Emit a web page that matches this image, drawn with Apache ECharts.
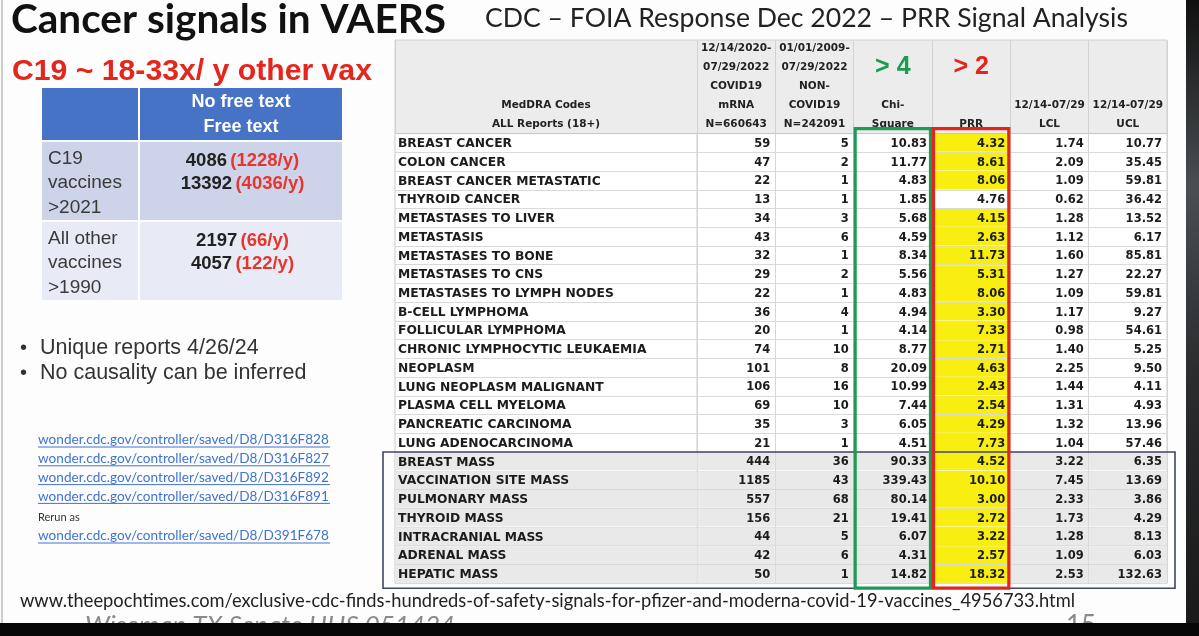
<!DOCTYPE html>
<html>
<head>
<meta charset="utf-8">
<script src="https://cdn.jsdelivr.net/npm/echarts@6/dist/echarts.min.js"></script>
<style>
  html, body { margin: 0; padding: 0; background: #fdfdfd; }
  #main { width: 1199px; height: 636px; }
</style>
</head>
<body>
<div id="main"></div>
<script>
// ---- data ----
var TERMS = ['BREAST CANCER', 'COLON CANCER', 'BREAST CANCER METASTATIC', 'THYROID CANCER',
    'METASTASES TO LIVER', 'METASTASIS', 'METASTASES TO BONE', 'METASTASES TO CNS',
    'METASTASES TO LYMPH NODES', 'B-CELL LYMPHOMA', 'FOLLICULAR LYMPHOMA',
    'CHRONIC LYMPHOCYTIC LEUKAEMIA', 'NEOPLASM', 'LUNG NEOPLASM MALIGNANT',
    'PLASMA CELL MYELOMA', 'PANCREATIC CARCINOMA', 'LUNG ADENOCARCINOMA',
    'BREAST MASS', 'VACCINATION SITE MASS', 'PULMONARY MASS', 'THYROID MASS',
    'INTRACRANIAL MASS', 'ADRENAL MASS', 'HEPATIC MASS'];
var COVID_N    = [59, 47, 22, 13, 34, 43, 32, 29, 22, 36, 20, 74, 101, 106, 69, 35, 21, 444, 1185, 557, 156, 44, 42, 50];
var NONCOVID_N = [5, 2, 1, 1, 3, 6, 1, 2, 1, 4, 1, 10, 8, 16, 10, 3, 1, 36, 43, 68, 21, 5, 6, 1];
var CHI_SQ = [10.83, 11.77, 4.83, 1.85, 5.68, 4.59, 8.34, 5.56, 4.83, 4.94, 4.14, 8.77, 20.09, 10.99, 7.44, 6.05, 4.51, 90.33, 339.43, 80.14, 19.41, 6.07, 4.31, 14.82];
var PRR    = [4.32, 8.61, 8.06, 4.76, 4.15, 2.63, 11.73, 5.31, 8.06, 3.30, 7.33, 2.71, 4.63, 2.43, 2.54, 4.29, 7.73, 4.52, 10.10, 3.00, 2.72, 3.22, 2.57, 18.32];
var LCL    = [1.74, 2.09, 1.09, 0.62, 1.28, 1.12, 1.60, 1.27, 1.09, 1.17, 0.98, 1.40, 2.25, 1.44, 1.31, 1.32, 1.04, 3.22, 7.45, 2.33, 1.73, 1.28, 1.09, 2.53];
var UCL    = [10.77, 35.45, 59.81, 36.42, 13.52, 6.17, 85.81, 22.27, 59.81, 9.27, 54.61, 5.25, 9.50, 4.11, 4.93, 13.96, 57.46, 6.35, 13.69, 3.86, 4.29, 8.13, 6.03, 132.63];
var CHI_CUT = 4;
var PRR_CUT = 2;

var NAME_HEADER = 'MedDRA Codes\nALL Reports (18+)';
var COL_HEADERS = ['12/14/2020-\n07/29/2022\nCOVID19\nmRNA\nN=660643',
    '01/01/2009-\n07/29/2022\nNON-\nCOVID19\nN=242091',
    'Chi-\nSquare', 'PRR', '12/14-07/29\nLCL', '12/14-07/29\nUCL'];
var COL_DECIMALS = [0, 0, 2, 2, 2, 2];

// small summary table on the left
var LT_GROUPS = ['C19\nvaccines\n>2021', 'All other\nvaccines\n>1990'];
var LT_HEADER = 'No free text\nFree text';
var LT_NOFREE = [4086, 2197];
var LT_NOFREE_Y = [1228, 66];
var LT_FREE = [13392, 4057];
var LT_FREE_Y = [4036, 122];

var LINKS = ['wonder.cdc.gov/controller/saved/D8/D316F828',
    'wonder.cdc.gov/controller/saved/D8/D316F827',
    'wonder.cdc.gov/controller/saved/D8/D316F892',
    'wonder.cdc.gov/controller/saved/D8/D316F891'];
var RERUN_LINK = 'wonder.cdc.gov/controller/saved/D8/D391F678';
var BULLETS = ['Unique reports 4/26/24', 'No causality can be inferred'];

// ---- layout ----
var TBL_TOP = 133.6, TBL_H = 449.6;
var NAME_X = 395, NAME_W = 302;
var NUM_X = 697, NUM_W = 470;
var YELLOW = '#f8ee10';
var GREEN = '#1f9a55';
var RED = '#e2261c';
var TFONT = '"DejaVu Sans", sans-serif';

var COLS = [COVID_N, NONCOVID_N, CHI_SQ, PRR, LCL, UCL];
function isMass(r) { return /MASS$/.test(TERMS[r]); }
var massStart = TERMS.findIndex(function (t, i) { return isMass(i); });

var cells = [];
TERMS.forEach(function (t, r) {
    COLS.forEach(function (arr, c) { cells.push([c, r]); });
});

var myChart = echarts.init(document.getElementById('main'));

var headerLabel = {
    interval: 0,
    margin: 0,
    color: '#222',
    fontFamily: TFONT,
    fontWeight: 'bold',
    fontSize: 10.5,
    lineHeight: 19,
    rich: {
        h: { fontFamily: TFONT, fontWeight: 'bold', fontSize: 10.5, lineHeight: 19, color: '#222' },
        g: { fontFamily: 'Liberation Sans', fontWeight: 'bold', fontSize: 25, lineHeight: 18, color: GREEN },
        r: { fontFamily: 'Liberation Sans', fontWeight: 'bold', fontSize: 25, lineHeight: 18, color: RED }
    }
};

var option = {
    backgroundColor: '#fdfdfd',
    animation: false,
    grid: [
        { left: NUM_X, top: TBL_TOP, width: NUM_W, height: TBL_H, show: true, backgroundColor: '#fff', borderColor: '#c9c9c9', borderWidth: 1 },
        { left: NAME_X, top: TBL_TOP, width: NAME_W, height: TBL_H, show: true, backgroundColor: '#fff', borderColor: '#c9c9c9', borderWidth: 1 },
        { left: 42, top: 141, width: 300, height: 160 }
    ],
    xAxis: [
        {
            gridIndex: 0, type: 'category', data: COL_HEADERS, position: 'top',
            axisLine: { lineStyle: { color: '#c9c9c9' } },
            axisTick: { show: true, length: 93, lineStyle: { color: '#d2d2d2' } },
            splitLine: { show: true, interval: 0, lineStyle: { color: '#d6d6d6' } },
            axisLabel: Object.assign({}, headerLabel, {
                formatter: function (v, i) {
                    if (i === 2) return '{g|> ' + CHI_CUT + '}\n\n{h|Chi-}\n{h|Square}';
                    if (i === 3) return '{r|> ' + PRR_CUT + '}\n\n\n{h|PRR}';
                    return v;
                }
            })
        },
        {
            gridIndex: 1, type: 'category', data: [NAME_HEADER], position: 'top',
            axisLine: { lineStyle: { color: '#c9c9c9' } },
            axisTick: { show: true, length: 93, lineStyle: { color: '#d2d2d2' } },
            axisLabel: headerLabel
        },
        { gridIndex: 2, type: 'category', data: ['v'], show: false }
    ],
    yAxis: [
        {
            gridIndex: 0, type: 'category', data: TERMS, inverse: true,
            axisLabel: { show: false }, axisTick: { show: false }, axisLine: { show: false },
            splitLine: { show: true, interval: 0, lineStyle: { color: '#dadada' } }
        },
        {
            gridIndex: 1, type: 'category', data: TERMS, inverse: true,
            axisLabel: { show: false }, axisTick: { show: false }, axisLine: { show: false },
            splitLine: { show: true, interval: 0, lineStyle: { color: '#dadada' } }
        },
        { gridIndex: 2, type: 'category', data: LT_GROUPS, inverse: true, show: false }
    ],
    series: [
        {
            // MedDRA term column
            name: 'terms', type: 'custom', xAxisIndex: 1, yAxisIndex: 1,
            data: TERMS.map(function (t, i) { return [0, i]; }),
            renderItem: function (params, api) {
                var r = api.value(1);
                var p = api.coord([0, r]);
                var s = api.size([1, 1]);
                var cs = params.coordSys;
                var ch = [];
                if (isMass(r)) {
                    ch.push({ type: 'rect', shape: { x: cs.x + 0.5, y: p[1] - s[1] / 2 + 0.5, width: cs.width - 1, height: s[1] - 1 }, style: { fill: '#e9e9e9' } });
                }
                ch.push({ type: 'text', style: { x: cs.x + 3, y: p[1] + 1, text: TERMS[r], align: 'left', verticalAlign: 'middle',
                    font: 'bold 12.3px ' + TFONT, fill: '#1c1c1c' } });
                return { type: 'group', children: ch };
            }
        },
        {
            // numeric cells
            name: 'cells', type: 'custom', xAxisIndex: 0, yAxisIndex: 0,
            data: cells,
            renderItem: function (params, api) {
                var c = api.value(0), r = api.value(1);
                var p = api.coord([c, r]);
                var s = api.size([1, 1]);
                var signal = CHI_SQ[r] > CHI_CUT && PRR[r] > PRR_CUT;
                var fill = null;
                if (c === 3 && signal) fill = YELLOW;
                else if (isMass(r)) fill = '#e9e9e9';
                var ch = [];
                if (fill) {
                    ch.push({ type: 'rect', shape: { x: p[0] - s[0] / 2 + 0.5, y: p[1] - s[1] / 2 + 0.5, width: s[0] - 1, height: s[1] - 1 }, style: { fill: fill } });
                }
                var v = COLS[c][r];
                ch.push({ type: 'text', style: { x: p[0] + s[0] / 2 - 5, y: p[1] + 1, text: v.toFixed(COL_DECIMALS[c]),
                    align: 'right', verticalAlign: 'middle', font: 'bold 11.5px ' + TFONT, fill: '#1c1c1c' } });
                return { type: 'group', children: ch };
            }
        },
        {
            // frame round the "mass" rows
            name: 'massBox', type: 'custom', xAxisIndex: 0, yAxisIndex: 0,
            data: [[0, massStart]],
            renderItem: function (params, api) {
                var cs = params.coordSys;
                var s = api.size([1, 1]);
                var top = api.coord([0, massStart])[1] - s[1] / 2;
                var bottom = api.coord([0, TERMS.length - 1])[1] + s[1] / 2 + 5;
                return { type: 'rect', shape: { x: cs.x - NAME_W - 12, y: top, width: cs.width + NAME_W + 20, height: bottom - top },
                    style: { fill: null, stroke: '#3f4661', lineWidth: 1.6 } };
            }
        },
        {
            // threshold frames: Chi-Square (green) and PRR (red)
            name: 'signalBoxes', type: 'custom', xAxisIndex: 0, yAxisIndex: 0,
            data: [[2, 0], [3, 0]],
            renderItem: function (params, api) {
                var c = api.value(0);
                var s = api.size([1, 1]);
                var p0 = api.coord([c, 0]);
                var pN = api.coord([c, TERMS.length - 1]);
                var top = p0[1] - s[1] / 2 - 5;
                var bottom = pN[1] + s[1] / 2 + 5;
                return { type: 'rect', shape: { x: p0[0] - s[0] / 2 + 1.5, y: top, width: s[0] - 3, height: bottom - top },
                    style: { fill: null, stroke: c === 2 ? GREEN : RED, lineWidth: 3.2 } };
            }
        },
        {
            // left summary table
            name: 'summary', type: 'custom', xAxisIndex: 2, yAxisIndex: 2,
            data: LT_GROUPS.map(function (g, i) { return [0, i]; }),
            renderItem: function (params, api) {
                var r = api.value(1);
                var cs = params.coordSys;
                var p = api.coord([0, r]);
                var s = api.size([1, 1]);
                var top = p[1] - s[1] / 2 + 1;
                var h = s[1] - 2;
                var split = cs.x + 97;
                return { type: 'group', children: [
                    { type: 'rect', shape: { x: cs.x, y: top, width: cs.width, height: h }, style: { fill: r === 0 ? '#cdd3e9' : '#e8ebf5' } },
                    { type: 'line', shape: { x1: split, y1: top, x2: split, y2: top + h }, style: { stroke: '#fff', lineWidth: 2 } },
                    { type: 'text', style: { x: cs.x + 6, y: p[1] + 2, text: LT_GROUPS[r], align: 'left', verticalAlign: 'middle',
                        font: '19px "Liberation Sans"', lineHeight: 24.5, fill: '#3a3a3a' } },
                    { type: 'text', style: { x: split + (cs.x + cs.width - split) / 2 + 2, y: top + 7,
                        text: '{n|' + LT_NOFREE[r] + '} {r|(' + LT_NOFREE_Y[r] + '/y)}\n{n|' + LT_FREE[r] + '} {r|(' + LT_FREE_Y[r] + '/y)}',
                        align: 'center', verticalAlign: 'top',
                        rich: {
                            n: { fontFamily: 'Liberation Sans', fontWeight: 'bold', fontSize: 18.5, lineHeight: 23.5, fill: '#222' },
                            r: { fontFamily: 'Liberation Sans', fontWeight: 'bold', fontSize: 18.5, lineHeight: 23.5, fill: '#e8352c' }
                        } } }
                ] };
            }
        }
    ],
    graphic: [
        { type: 'rect', z: -10, shape: { x: NAME_X, y: 40, width: NAME_W + NUM_W, height: TBL_TOP - 40 }, style: { fill: '#ececec', stroke: '#d0d0d0', lineWidth: 1 } },
        { type: 'line', shape: { x1: 2, y1: 0, x2: 2, y2: 623 }, style: { stroke: '#bdbdbd', lineWidth: 1.5 } },
        { type: 'text', x: 11, y: 20, style: { text: 'Cancer signals in VAERS', font: 'bold 40.5px Lato', fill: '#111', verticalAlign: 'middle' } },
        { type: 'text', x: 485, y: 18, style: { text: 'CDC \u2013 FOIA Response Dec 2022 \u2013 PRR Signal Analysis', font: '26.6px Lato', fill: '#222', verticalAlign: 'middle' } },
        { type: 'text', x: 12, y: 72, style: { text: 'C19 ~ 18-33x/ y other vax', font: 'bold 30.2px "Liberation Sans"', fill: '#e3271d', verticalAlign: 'middle' } },
        { type: 'rect', shape: { x: 42, y: 88, width: 300, height: 52 }, style: { fill: '#4673c6' } },
        { type: 'line', shape: { x1: 139, y1: 88, x2: 139, y2: 140 }, style: { stroke: '#fff', lineWidth: 2 } },
        { type: 'text', x: 241, y: 115, style: { text: LT_HEADER, font: 'bold 18px "Liberation Sans"', lineHeight: 25, fill: '#fff', align: 'center', verticalAlign: 'middle' } },
        { type: 'text', x: 20, y: 348, style: { text: '\u2022', font: '20px "Liberation Sans"', fill: '#333', verticalAlign: 'middle' } },
        { type: 'text', x: 40, y: 348, style: { text: BULLETS[0], font: '21.5px "Liberation Sans"', fill: '#333', verticalAlign: 'middle' } },
        { type: 'text', x: 20, y: 373, style: { text: '\u2022', font: '20px "Liberation Sans"', fill: '#333', verticalAlign: 'middle' } },
        { type: 'text', x: 40, y: 373, style: { text: BULLETS[1], font: '21.5px "Liberation Sans"', fill: '#333', verticalAlign: 'middle' } }
    ]
        .concat(LINKS.map(function (l, i) {
            var y = 440 + i * 18.8;
            return { type: 'group', children: [
                { type: 'text', x: 38, y: y, style: { text: l, font: '13.6px Lato', fill: '#3f73d3', verticalAlign: 'middle' } },
                { type: 'line', shape: { x1: 38, y1: y + 7, x2: 330, y2: y + 7 }, style: { stroke: '#3f73d3', lineWidth: 1 } }
            ] };
        }))
        .concat([
            { type: 'text', x: 38, y: 517, style: { text: 'Rerun as', font: '11px Lato', fill: '#333', verticalAlign: 'middle' } },
            { type: 'text', x: 38, y: 536, style: { text: RERUN_LINK, font: '13.6px Lato', fill: '#3f73d3', verticalAlign: 'middle' } },
            { type: 'line', shape: { x1: 38, y1: 543, x2: 330, y2: 543 }, style: { stroke: '#3f73d3', lineWidth: 1 } },
            { type: 'text', x: 20, y: 601, style: { text: 'www.theepochtimes.com/exclusive-cdc-finds-hundreds-of-safety-signals-for-pfizer-and-moderna-covid-19-vaccines_4956733.html',
                font: '18.3px Lato', fill: '#222', verticalAlign: 'middle' } },
            { type: 'text', x: 85, y: 613, style: { text: 'Wiseman TX Senate HHS 051424', font: 'italic 26px Lato', fill: '#8a8a8a', verticalAlign: 'top' } },
            { type: 'text', x: 1066, y: 613, style: { text: '15', font: '26px Lato', fill: '#8a8a8a', verticalAlign: 'top' } },
            { type: 'rect', z: 100, shape: { x: 0, y: 623, width: 1199, height: 13 }, style: { fill: '#070707' } },
            { type: 'rect', z: 100, shape: { x: 1186, y: 0, width: 13, height: 623 },
                style: { fill: new echarts.graphic.LinearGradient(0, 0, 0, 1, [
                    { offset: 0, color: '#101010' }, { offset: 0.3, color: '#4a4f52' }, { offset: 0.6, color: '#2a2c2e' }, { offset: 1, color: '#1a1a1a' }]) } }
        ])
};

myChart.setOption(option);
window.onresize = function () {
    myChart.resize();
};
</script>
</body>
</html>
